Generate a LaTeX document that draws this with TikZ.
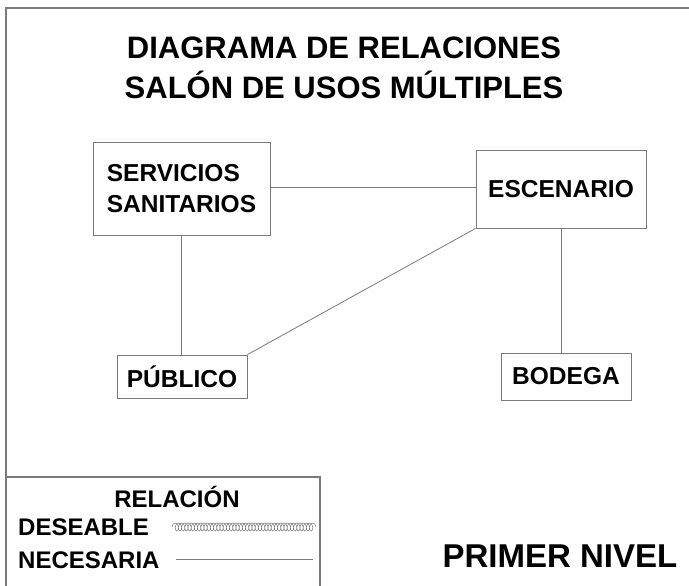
\documentclass[tikz,border=0pt]{standalone}
\usepackage{fontspec}
\setmainfont{Liberation Sans}
\usepackage{tikz}
\usetikzlibrary{decorations.pathmorphing}
\definecolor{lineagray}{HTML}{7A7A7A}

\begin{document}
\begin{tikzpicture}[
    x=1pt, y=-1pt,
    room/.style={rectangle, draw=lineagray, line width=0.9pt, fill=white,
        align=left, font=\fontsize{24.5}{31}\selectfont\bfseries, inner sep=4pt},
    link/.style={draw=lineagray, line width=0.8pt},
    coiled/.style={draw=lineagray, line width=0.5pt, decorate,
        decoration={coil, aspect=0.6, segment length=3.2pt, amplitude=4pt}},
    frame/.style={draw=lineagray, line width=1.2pt},
    ttl/.style={font=\fontsize{31}{40}\selectfont\bfseries, align=center},
    lgd/.style={font=\fontsize{24}{28}\selectfont\bfseries, inner sep=0pt}
]
    \useasboundingbox (0,0) rectangle (689,586);

    % === frame ===
    \draw[frame] (689,8) -- (6,8) -- (6,586);

    % === title ===
    \node[ttl] (title) at (344,68) {DIAGRAMA DE RELACIONES\\SALÓN DE USOS MÚLTIPLES};

    % === rooms ===
    \node[room, minimum width=177pt, minimum height=93pt] (sanit) at (181.5,188.5) {SERVICIOS\\SANITARIOS};
    \node[room, minimum width=170pt, minimum height=78pt] (escen) at (561,189) {ESCENARIO};
    \node[room, minimum width=130pt, minimum height=43pt] (publi) at (182,376.5) {PÚBLICO};
    \node[room, minimum width=130pt, minimum height=47pt] (bodeg) at (566,376.5) {BODEGA};

    % --- relations ---
    \draw[link] (sanit.east |- 0,187) -- (escen.west |- 0,187);
    \draw[link] (sanit.south) -- (sanit.south |- publi.north);
    \draw[link] (escen.south west) -- (publi.north east);
    \draw[link] (escen.south) -- (escen.south |- bodeg.north);

    % === legend ===
    \coordinate (lgdtl) at (6,477);
    \coordinate (lgdbr) at (320,586);
    \draw[frame] (lgdtl) -- (lgdbr |- lgdtl) -- (lgdbr);
    \node[lgd] (relac) at (177,497) {RELACIÓN};
    \node[lgd, anchor=west] (desea) at (18,527) {DESEABLE};
    \node[lgd, anchor=west] (neces) at (18,560) {NECESARIA};
    \coordinate (desea-a) at (172,527);
    \coordinate (desea-b) at (316,527);
    \coordinate (neces-a) at (176,559);
    \coordinate (neces-b) at (313,559);
    \draw[coiled] (desea-a) -- (desea-b);
    \draw[link] (neces-a) -- (neces-b);

    % === level ===
    \node[font=\fontsize{33}{38}\selectfont\bfseries] (nivel) at (560,556) {PRIMER NIVEL};
\end{tikzpicture}
\end{document}
